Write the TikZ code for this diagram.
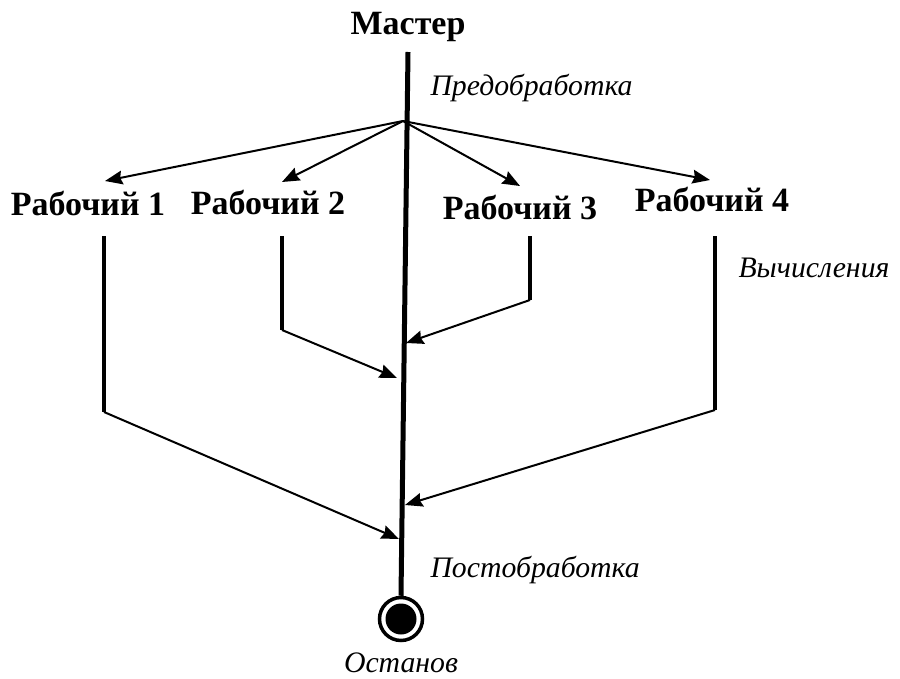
\documentclass[tikz,border=0pt]{standalone}
\usepackage{fontspec}
\setmainfont{Liberation Serif}
\usetikzlibrary{arrows.meta}
\begin{document}
\begin{tikzpicture}[x=0.4pt, y=-0.4pt,
  worker/.style={font=\fontsize{13.6}{16}\selectfont\bfseries, inner sep=0pt},
  phase/.style={font=\fontsize{11.9}{14}\selectfont\itshape, inner sep=0pt, anchor=west},
  mainline/.style={line width=2pt},
  workline/.style={line width=1.6pt},
  msg/.style={line width=0.8pt, -{Stealth[length=7pt, width=5.5pt, inset=0.8pt]}}]
\useasboundingbox (0,0) rectangle (900,679);

% master thread
\node[worker] (master) at (408,27) {Мастер};
\coordinate (mtop) at (408,52);
\coordinate (fork) at (403,121);
\node[circle, draw, line width=1.4pt, minimum size=43*0.4pt, inner sep=0pt] (stop) at (401,619) {};
\fill (stop.center) circle (15.5*0.4pt);
\draw[mainline] (mtop) -- (stop.north);

% phase labels
\node[phase] (pre) at (430,88) {Предобработка};
\node[phase] (calc) at (738,268) {Вычисления};
\node[phase] (post) at (430,570) {Постобработка};
\node[font=\fontsize{11.9}{14}\selectfont\itshape, inner sep=0pt] (halt) at (401,663) {Останов};

% workers
\node[worker] (w1) at (88,203) {Рабочий 1};
\node[worker] (w2) at (268,202) {Рабочий 2};
\node[worker] (w3) at (520,207) {Рабочий 3};
\node[worker] (w4) at (712,199) {Рабочий 4};

% fork arrows
\coordinate (f1) at (105,181);
\coordinate (f2) at (282,182);
\coordinate (f3) at (520,186);
\coordinate (f4) at (710,180);
\foreach \t in {f1,f2,f3,f4} \draw[msg] (fork) -- (\t);

% worker threads
\coordinate (w1a) at (104,236); \coordinate (w1b) at (104,412);
\coordinate (w2a) at (282,236); \coordinate (w2b) at (282,330);
\coordinate (w3a) at (530,236); \coordinate (w3b) at (530,300);
\coordinate (w4a) at (715,236); \coordinate (w4b) at (715,410);
\foreach \a/\b in {w1a/w1b,w2a/w2b,w3a/w3b,w4a/w4b} \draw[workline] (\a) -- (\b);

% joins back to the master
\coordinate (j1) at (399,539);
\coordinate (j2) at (397,378);
\coordinate (j3) at (406,343);
\coordinate (j4) at (405,505);
\draw[msg] (w1b) -- (j1);
\draw[msg] (w2b) -- (j2);
\draw[msg] (w3b) -- (j3);
\draw[msg] (w4b) -- (j4);
\end{tikzpicture}
\end{document}
